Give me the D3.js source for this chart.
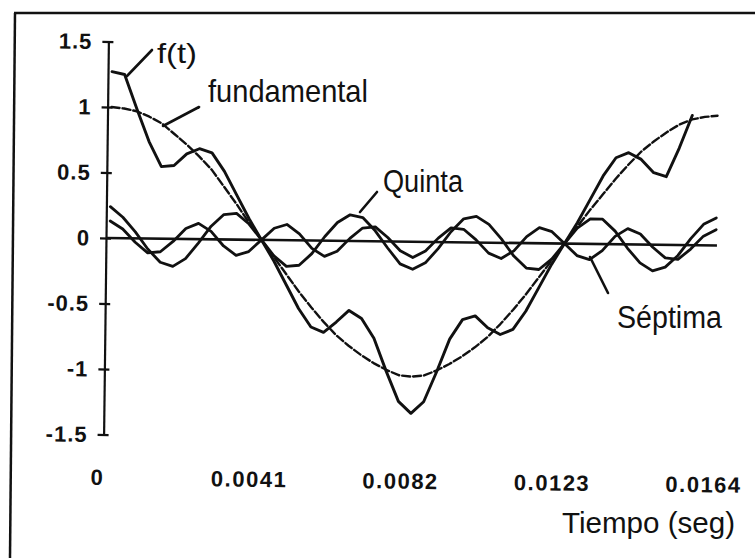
<!DOCTYPE html>
<html>
<head>
<meta charset="utf-8">
<script src="https://cdn.jsdelivr.net/npm/d3@7"></script>
<style>
  html, body { margin: 0; padding: 0; background: #fff; }
  svg { display: block; font-family: "Liberation Sans", Arial, sans-serif; }
</style>
</head>
<body>
<svg id="chart" width="755" height="558"></svg>
<script>
// One period of the signal and its harmonics, sampled 48 times per period.
const period = 0.0164;
const samplesPerPeriod = 48;

const fundamental = [1.00, 0.99, 0.97, 0.93, 0.88, 0.80, 0.72, 0.63, 0.53, 0.40, 0.27, 0.13, 0.00,
  -0.13, -0.26, -0.39, -0.51, -0.62, -0.72, -0.80, -0.87, -0.93, -0.98, -1.02, -1.03,
  -1.02, -0.98, -0.93, -0.87, -0.80, -0.72, -0.62, -0.51, -0.39, -0.26, -0.13, 0.00,
  0.13, 0.26, 0.38, 0.50, 0.61, 0.71, 0.79, 0.86, 0.92, 0.96, 0.98, 0.99];

const quinta = [0.24, 0.16, 0.05, -0.08, -0.18, -0.21, -0.15, -0.03, 0.10, 0.19, 0.20, 0.12, 0.00,
  -0.12, -0.20, -0.19, -0.10, 0.03, 0.14, 0.20, 0.18, 0.08, -0.05, -0.17, -0.21,
  -0.16, -0.05, 0.08, 0.18, 0.20, 0.14, 0.03, -0.10, -0.19, -0.20, -0.12, 0.00,
  0.12, 0.19, 0.19, 0.10, -0.03, -0.14, -0.20, -0.17, -0.08, 0.05, 0.16, 0.21];

const septima = [0.13, 0.07, -0.03, -0.11, -0.10, -0.02, 0.08, 0.12, 0.06, -0.05, -0.12, -0.09, 0.00,
  0.09, 0.12, 0.05, -0.06, -0.12, -0.08, 0.02, 0.10, 0.11, 0.03, -0.07, -0.12,
  -0.07, 0.03, 0.11, 0.10, 0.02, -0.08, -0.12, -0.06, 0.05, 0.12, 0.09, 0.00,
  -0.09, -0.12, -0.05, 0.06, 0.12, 0.08, -0.02, -0.10, -0.11, -0.03, 0.07, 0.12];

const fOfT = [1.27, 1.25, 0.99, 0.74, 0.55, 0.56, 0.65, 0.69, 0.66, 0.52, 0.34, 0.16, 0.00,
  -0.16, -0.34, -0.52, -0.66, -0.70, -0.62, -0.53, -0.59, -0.74, -0.99, -1.22, -1.31,
  -1.22, -0.99, -0.74, -0.59, -0.56, -0.65, -0.70, -0.66, -0.52, -0.34, -0.16, 0.00,
  0.16, 0.34, 0.52, 0.66, 0.70, 0.65, 0.55, 0.52, 0.74, 0.99];

const xTickValues = [0, 0.0041, 0.0082, 0.0123, 0.0164];
const xTickLabels = ["0", "0.0041", "0.0082", "0.0123", "0.0164"];
const yTickValues = [1.5, 1, 0.5, 0, -0.5, -1, -1.5];
const yTickLabels = ["1.5", "1", "0.5", "0", "-0.5", "-1", "-1.5"];

const svg = d3.select("#chart");
const ink = "#111";

// Outer frame (top and left edges)
svg.append("line").attr("x1", 14).attr("y1", 13).attr("x2", 755).attr("y2", 13)
  .attr("stroke", ink).attr("stroke-width", 2.5);
svg.append("line").attr("x1", 15).attr("y1", 13).attr("x2", 10).attr("y2", 558)
  .attr("stroke", ink).attr("stroke-width", 2.5);

// Plot group, slightly tilted like the printed page
const g = svg.append("g").attr("transform", "rotate(0.7,106,238)");

const x = d3.scaleLinear().domain([0, period]).range([110, 716]);
const y = d3.scaleLinear().domain([-1.5, 1.5]).range([434.5, 41.5]);
const axisX = 106;
const tOf = i => i * period / samplesPerPeriod;

// Y axis with ticks crossing the axis line
const yAxis = g.append("g").attr("transform", `translate(${axisX},0)`)
  .call(d3.axisLeft(y).tickValues(yTickValues).tickSize(6).tickSizeOuter(0).tickPadding(10)
    .tickFormat((d, i) => yTickLabels[i]));
yAxis.select(".domain").attr("stroke", ink).attr("stroke-width", 2.2);
yAxis.selectAll(".tick line").attr("x1", 5).attr("stroke", ink).attr("stroke-width", 2.2);
yAxis.selectAll(".tick text")
  .attr("font-family", "'Liberation Sans', Arial, sans-serif")
  .attr("font-size", 22).attr("font-weight", "bold").attr("letter-spacing", 1)
  .attr("fill", ink);

// X tick labels below the plot
const xAxis = g.append("g").attr("transform", "translate(0,462)")
  .call(d3.axisBottom(x).tickValues(xTickValues).tickSize(0).tickPadding(0)
    .tickFormat((d, i) => xTickLabels[i]));
xAxis.select(".domain").remove();
xAxis.selectAll(".tick text")
  .attr("y", 23).attr("dy", 0).attr("dx", -10)
  .attr("font-family", "'Liberation Sans', Arial, sans-serif")
  .attr("font-size", 22).attr("font-weight", "bold").attr("letter-spacing", 1.5)
  .attr("fill", ink);

// Zero line
g.append("line")
  .attr("x1", axisX).attr("x2", x(period) + 1)
  .attr("y1", y(0)).attr("y2", y(0))
  .attr("stroke", ink).attr("stroke-width", 2.6);

const line = d3.line().x((d, i) => x(tOf(i))).y(d => y(d));

const series = [
  { values: quinta, width: 2.8, dash: null },
  { values: septima, width: 2.8, dash: null },
  { values: fundamental, width: 2.4, dash: "8 3" },
  { values: fOfT, width: 2.9, dash: null }
];
series.forEach(s => {
  g.append("path").datum(s.values)
    .attr("d", line)
    .attr("fill", "none")
    .attr("stroke", ink)
    .attr("stroke-width", s.width)
    .attr("stroke-linejoin", "round")
    .attr("stroke-linecap", "round")
    .attr("stroke-dasharray", s.dash);
});

// Leader lines and curve names
const leaders = [
  [[127, 76], [152, 50]],
  [[163, 126], [199, 107]],
  [[360, 212], [377, 192]],
  [[590, 257], [608, 293]]
];
leaders.forEach(([a, b]) => {
  svg.append("line").attr("x1", a[0]).attr("y1", a[1]).attr("x2", b[0]).attr("y2", b[1])
    .attr("stroke", ink).attr("stroke-width", 2.6).attr("stroke-linecap", "round");
});

function label(text, lx, ly, size, len) {
  svg.append("text").attr("x", lx).attr("y", ly)
    .attr("font-size", size)
    .attr("textLength", len).attr("lengthAdjust", "spacingAndGlyphs")
    .attr("fill", ink).text(text);
}
label("f(t)", 157, 63, 28, 40);
label("fundamental", 208, 102, 32, 160);
label("Quinta", 383, 192, 31, 80);
label("Séptima", 617, 328, 31, 105);
label("Tiempo (seg)", 562, 533, 30, 173);
</script>
</body>
</html>
